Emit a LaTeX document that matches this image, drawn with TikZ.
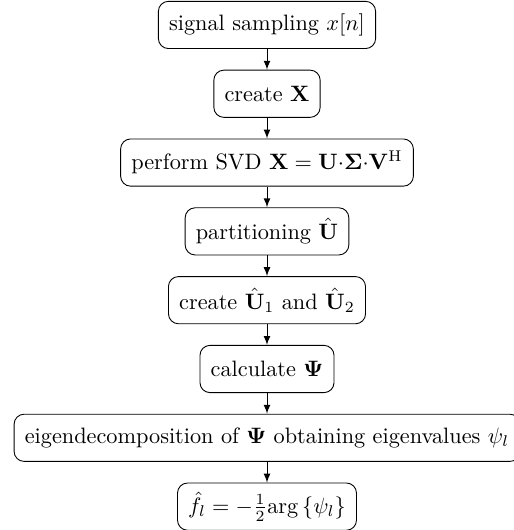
\documentclass[tikz,border=0pt]{standalone}
\usepackage{amsmath}
\usepackage{amssymb}
\usepackage{tikz}
\usetikzlibrary{positioning}

\begin{document}
\begin{tikzpicture}[
        block/.style={draw,rounded corners=4.5pt,minimum height=21.2pt,inner xsep=4.8pt,inner ysep=3.5pt},
        node distance=9.3pt,
        >=latex
    ]
    \useasboundingbox (-119.9pt,11.2pt) rectangle (110.9pt,-226.8pt);
    \node [block] (sampling) at (0,0) {signal sampling $x[n]$};
    \node [block,below=of sampling] (createX) {create $\mathbf{X}$};
    \node [block,below=of createX] (svd) {perform SVD $\mathbf{X}=\mathbf{U}{\cdot}\boldsymbol{\Sigma}{\cdot}\mathbf{V}^{\mathrm{H}}$};
    \node [block,below=of svd] (partition) {partitioning $\hat{\mathbf{U}}$};
    \node [block,below=of partition] (createU) {create $\hat{\mathbf{U}}_1$ and $\hat{\mathbf{U}}_2$};
    \node [block,below=of createU] (calcPsi) {calculate $\boldsymbol{\Psi}$};
    \node [block,below=of calcPsi] (eigen) {eigendecomposition of $\boldsymbol{\Psi}$ obtaining eigenvalues $\psi_l$};
    \node [block,below=of eigen] (freq) {$\hat{f}_l=-\frac{1}{2}\mathrm{arg}\left\{\psi_l\right\}$};
    \draw [->] (sampling) -- (createX);
    \draw [->] (createX) -- (svd);
    \draw [->] (svd) -- (partition);
    \draw [->] (partition) -- (createU);
    \draw [->] (createU) -- (calcPsi);
    \draw [->] (calcPsi) -- (eigen);
    \draw [->] (eigen) -- (freq);
\end{tikzpicture}
\end{document}
